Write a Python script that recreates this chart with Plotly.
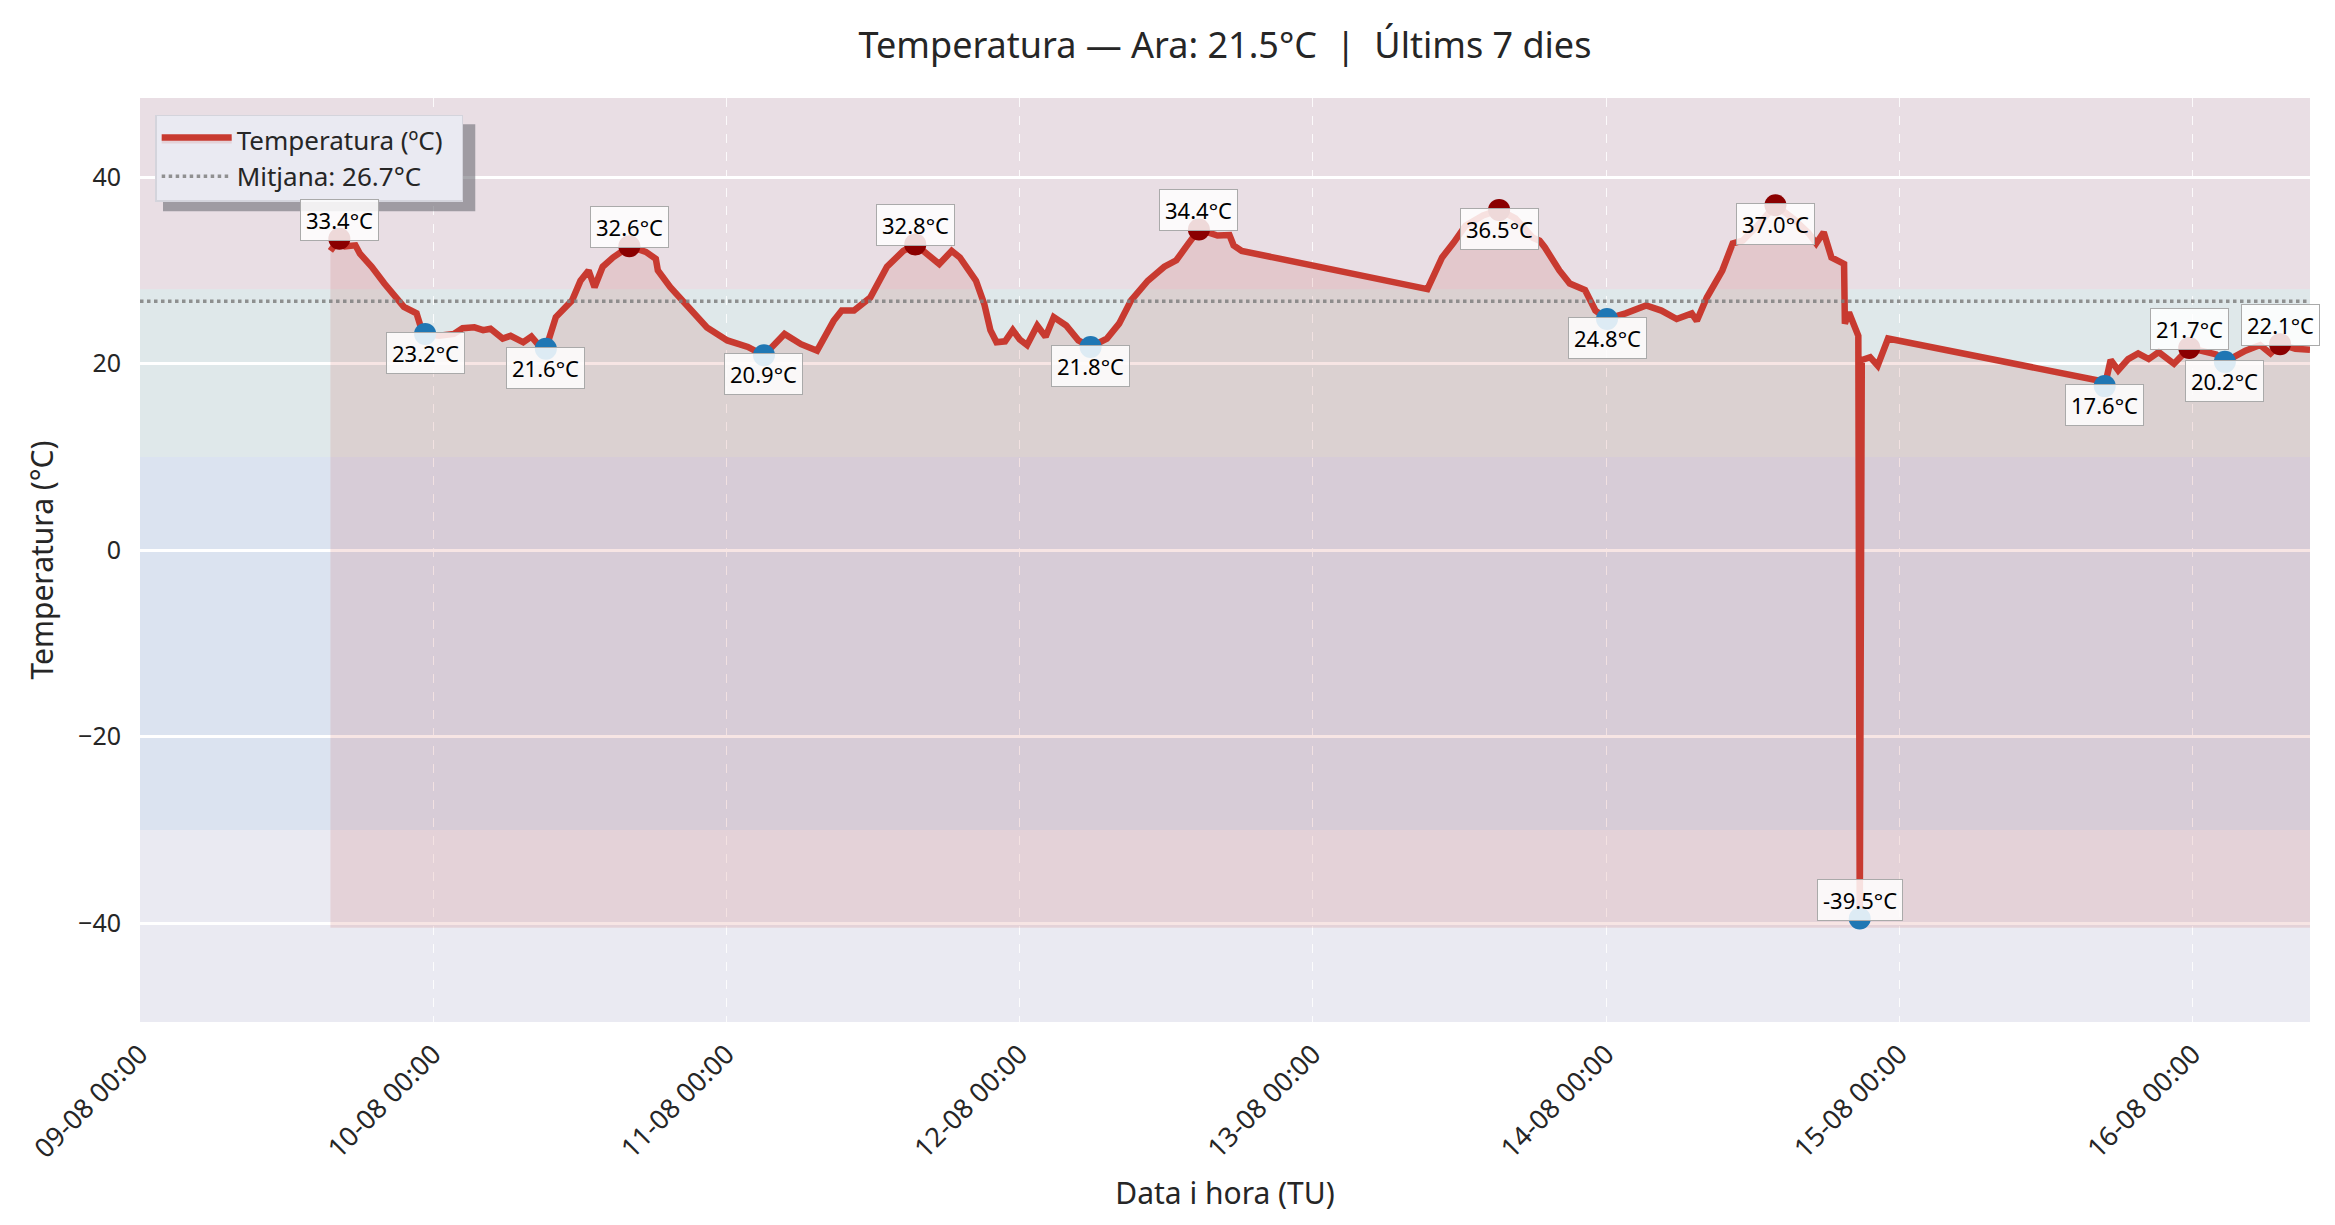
import plotly.graph_objects as go

# temperatura registrada (TU), llegida del gràfic
times = [
    "2025-08-09 15:35", "2025-08-09 16:19", "2025-08-09 16:48", "2025-08-09 17:38",
    "2025-08-09 18:00", "2025-08-09 18:58", "2025-08-09 20:00", "2025-08-09 21:00",
    "2025-08-09 21:36", "2025-08-09 22:38", "2025-08-09 22:55", "2025-08-09 23:20",
    "2025-08-10 00:29", "2025-08-10 01:41", "2025-08-10 02:24", "2025-08-10 03:22",
    "2025-08-10 04:05", "2025-08-10 04:41", "2025-08-10 05:41", "2025-08-10 06:20",
    "2025-08-10 07:22", "2025-08-10 08:02", "2025-08-10 08:38", "2025-08-10 09:13",
    "2025-08-10 10:02", "2025-08-10 11:22", "2025-08-10 12:03", "2025-08-10 12:43",
    "2025-08-10 13:12", "2025-08-10 13:52", "2025-08-10 14:43", "2025-08-10 16:03",
    "2025-08-10 17:24", "2025-08-10 18:13", "2025-08-10 18:23", "2025-08-10 19:24",
    "2025-08-10 20:44", "2025-08-10 22:24", "2025-08-11 00:04", "2025-08-11 01:45",
    "2025-08-11 03:04", "2025-08-11 04:45", "2025-08-11 06:06", "2025-08-11 07:25",
    "2025-08-11 08:46", "2025-08-11 09:26", "2025-08-11 10:26", "2025-08-11 11:46",
    "2025-08-11 13:08", "2025-08-11 14:28", "2025-08-11 15:27", "2025-08-11 16:19",
    "2025-08-11 17:25", "2025-08-11 18:26", "2025-08-11 19:06", "2025-08-11 20:25",
    "2025-08-11 21:06", "2025-08-11 21:36", "2025-08-11 22:06", "2025-08-11 22:48",
    "2025-08-11 23:26", "2025-08-12 00:00", "2025-08-12 00:36", "2025-08-12 01:26",
    "2025-08-12 02:07", "2025-08-12 02:47", "2025-08-12 03:48", "2025-08-12 04:48",
    "2025-08-12 05:48", "2025-08-12 07:08", "2025-08-12 08:08", "2025-08-12 09:07",
    "2025-08-12 10:29", "2025-08-12 11:50", "2025-08-12 12:49", "2025-08-12 13:49",
    "2025-08-12 14:40", "2025-08-12 16:11", "2025-08-12 17:10", "2025-08-12 17:30",
    "2025-08-12 18:10", "2025-08-13 09:22", "2025-08-13 10:34", "2025-08-13 11:31",
    "2025-08-13 12:29", "2025-08-13 13:55", "2025-08-13 15:14", "2025-08-13 16:34",
    "2025-08-13 18:00", "2025-08-13 18:33", "2025-08-13 18:58", "2025-08-13 20:10",
    "2025-08-13 21:01", "2025-08-13 22:16", "2025-08-13 23:07", "2025-08-14 00:04",
    "2025-08-14 01:35", "2025-08-14 03:16", "2025-08-14 04:31", "2025-08-14 05:46",
    "2025-08-14 07:00", "2025-08-14 07:25", "2025-08-14 08:14", "2025-08-14 09:30",
    "2025-08-14 10:21", "2025-08-14 11:10", "2025-08-14 12:14", "2025-08-14 13:51",
    "2025-08-14 15:22", "2025-08-14 16:34", "2025-08-14 17:11", "2025-08-14 17:48",
    "2025-08-14 18:26", "2025-08-14 19:28", "2025-08-14 19:32", "2025-08-14 19:52",
    "2025-08-14 20:17", "2025-08-14 20:38", "2025-08-14 20:45", "2025-08-14 20:55",
    "2025-08-14 21:36", "2025-08-14 22:13", "2025-08-14 23:04", "2025-08-15 16:18",
    "2025-08-15 16:48", "2025-08-15 17:17", "2025-08-15 17:54", "2025-08-15 18:43",
    "2025-08-15 19:32", "2025-08-15 20:24", "2025-08-15 21:13", "2025-08-15 22:28",
    "2025-08-15 23:43", "2025-08-16 00:58", "2025-08-16 01:55", "2025-08-16 02:38",
    "2025-08-16 04:19", "2025-08-16 05:31", "2025-08-16 06:22", "2025-08-16 07:09",
    "2025-08-16 08:24", "2025-08-16 09:36",
]
temps = [
    32.1, 33.4, 32.6, 32.7, 31.8, 30.4, 28.6, 27.0,
    26.1, 25.4, 24.2, 23.2,
    23.0, 23.2, 23.8, 23.9, 23.6, 23.75, 22.7, 23.0,
    22.3, 22.9, 22.0, 21.6,
    25.0, 26.8, 28.9, 30.0, 28.2, 30.4, 31.4, 32.6,
    32.0, 31.25, 30.0, 28.2, 26.4, 23.9, 22.5, 21.8,
    20.9, 23.2, 22.1, 21.4, 24.6, 25.7, 25.7, 27.1,
    30.4, 32.1, 32.8, 31.8, 30.7, 32.1, 31.4, 28.9,
    26.4, 23.6, 22.3, 22.4, 23.6, 22.6, 22.0, 24.1,
    22.9, 25.0, 24.1, 22.5, 21.8, 22.7, 24.3, 26.8,
    28.9, 30.4, 31.1, 32.9, 34.4, 33.75, 33.8, 32.7,
    32.1, 28.0, 31.4, 33.0, 34.8, 35.9, 36.5, 35.6,
    33.5, 33.2, 32.5, 30.0, 28.6, 27.9, 25.7, 24.8,
    25.4, 26.25, 25.7, 24.8, 25.4, 24.6, 27.1, 30.0,
    32.9, 33.2, 34.6, 37.0, 35.5, 34.0, 32.9, 34.1,
    31.4, 30.7, 24.3, 25.5, 24.3, 23.0, -39.5, 20.4,
    20.7, 19.8, 22.7, 18.2, 17.6, 20.4, 19.3, 20.5,
    21.1, 20.5, 21.25, 20.0, 21.7, 21.25, 21.0, 20.2,
    21.4, 22.0, 21.1, 22.1, 21.6, 21.5,
]

# màxims i mínims destacats
max_times = ["2025-08-09 16:19", "2025-08-10 16:03", "2025-08-11 15:27", "2025-08-12 14:40",
             "2025-08-13 15:14", "2025-08-14 13:51", "2025-08-15 23:43", "2025-08-16 07:09"]
max_vals = [33.4, 32.6, 32.8, 34.4, 36.5, 37.0, 21.7, 22.1]
min_times = ["2025-08-09 23:20", "2025-08-10 09:13", "2025-08-11 03:04", "2025-08-12 05:48",
             "2025-08-14 00:04", "2025-08-14 20:45", "2025-08-15 16:48", "2025-08-16 02:38"]
min_vals = [23.2, 21.6, 20.9, 21.8, 24.8, -39.5, 17.6, 20.2]

mean_t = 26.7
now_t = 21.5
x_start = "2025-08-09 00:00"

# franges de temperatura: (des de, fins a, color)
bands = [(28, 48.5, "rgba(231,76,60,0.07)"),
         (10, 28, "rgba(46,204,113,0.06)"),
         (-30, 10, "rgba(52,152,219,0.08)")]

FONT = "Noto Sans"
TXT = "#262626"
RED = "#c83a30"
PAD = "\u00a0\u00a0"  # marge dret dins la llegenda

fill_base = min(temps) - 1
y_lo, y_hi = -50.6, 48.5

fig = go.Figure()

fig.add_trace(go.Scatter(x=times, y=[fill_base] * len(times), mode="lines",
                         line=dict(width=0), showlegend=False, hoverinfo="skip"))
fig.add_trace(go.Scatter(x=times, y=temps, mode="lines", fill="tonexty",
                         fillcolor="rgba(192,57,43,0.13)",
                         line=dict(color=RED, width=6.5), name="Temperatura (ºC)" + PAD))
fig.add_trace(go.Scatter(x=[x_start, times[-1]], y=[mean_t, mean_t], mode="lines",
                         line=dict(color="rgba(128,128,128,0.85)", width=3.5, dash="dot"),
                         name=f"Mitjana: {mean_t:.1f}°C"))
fig.add_trace(go.Scatter(x=max_times, y=max_vals, mode="markers",
                         marker=dict(color="#8b0000", size=22), showlegend=False))
fig.add_trace(go.Scatter(x=min_times, y=min_vals, mode="markers",
                         marker=dict(color="#1f77b4", size=22), showlegend=False))

for y0, y1, col in bands:
    fig.add_shape(type="rect", xref="paper", x0=0, x1=1, yref="y", y0=y0, y1=y1,
                  fillcolor=col, line_width=0, layer="below")

# ombra de la llegenda
fig.add_shape(type="rect", xref="paper", yref="paper", x0=0.0106, x1=0.1545,
              y0=0.8774, y1=0.9715, fillcolor="rgba(110,110,118,0.6)", line_width=0,
              layer="above")

# etiquetes: màxims a sobre (excepte els més alts), mínims a sota
for t, v in zip(max_times, max_vals):
    shift = -19 if v > 35 else 19
    fig.add_annotation(x=t, y=v, text=f"{v:.1f}°C", showarrow=False, yshift=shift,
                       font=dict(size=22, color="black", family=FONT),
                       bgcolor="rgba(255,255,255,0.85)", bordercolor="#aaaaaa",
                       borderwidth=1, borderpad=5)
for t, v in zip(min_times, min_vals):
    shift = 19 if v < 0 else -19
    fig.add_annotation(x=t, y=v, text=f"{v:.1f}°C", showarrow=False, yshift=shift,
                       font=dict(size=22, color="black", family=FONT),
                       bgcolor="rgba(255,255,255,0.85)", bordercolor="#aaaaaa",
                       borderwidth=1, borderpad=5)

fig.update_layout(
    width=2319, height=1209,
    margin=dict(l=132, r=17, t=90, b=195),
    paper_bgcolor="white", plot_bgcolor="#eaeaf2",
    font=dict(family=FONT, color=TXT),
    title=dict(text=f"Temperatura — Ara: {now_t:.1f}°C  |  Últims 7 dies",
               x=0.5, xref="paper", xanchor="center",
               y=1 - 37 / 1209, yref="container", yanchor="middle",
               font=dict(size=36, color=TXT)),
    legend=dict(x=0.007, y=0.982, xanchor="left", yanchor="top", traceorder="normal",
                bgcolor="rgba(234,234,242,1)", bordercolor="#d4d4dc", borderwidth=1.5,
                font=dict(size=26, color=TXT), itemwidth=70),
    showlegend=True,
)

fig.update_xaxes(type="date", range=[x_start, times[-1]],
                 tick0=x_start, dtick=86400000, tickformat="%d-%m %H:%M",
                 tickangle=-45, tickfont=dict(size=27, color=TXT),
                 showgrid=True, gridcolor="rgba(255,255,255,0.85)", griddash="dash",
                 gridwidth=1.3, zeroline=False, showline=False, ticks="",
                 ticklabelstandoff=10,
                 title=dict(text="Data i hora (TU)", font=dict(size=30, color=TXT), standoff=18))
fig.update_yaxes(range=[y_lo, y_hi], dtick=20, tick0=0,
                 tickfont=dict(size=25, color=TXT),
                 showgrid=True, gridcolor="white", gridwidth=3,
                 zeroline=False, showline=False, ticks="", ticklabelstandoff=18,
                 title=dict(text="Temperatura (°C)", font=dict(size=30, color=TXT), standoff=15))

fig.write_html("out.html")
